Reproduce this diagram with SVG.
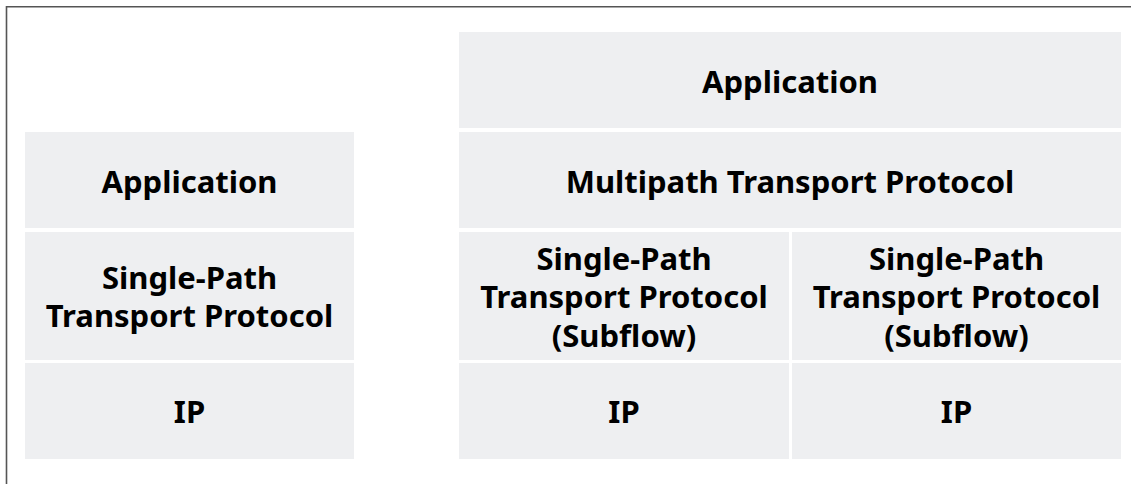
<svg xmlns="http://www.w3.org/2000/svg" width="1131" height="484" viewBox="0 0 1131 484">
<style>
.cell{fill:#eeeff1}
.t{font-family:"Noto Sans","Open Sans","DejaVu Sans",sans-serif;font-weight:bold;font-size:31px;fill:#000;text-anchor:middle}
.frame{stroke:#555;stroke-width:1.6;fill:none}
</style>
<rect width="1131" height="484" fill="#fff"/>
<path class="frame" d="M6.5,484 V6.8 H1131"/>
<g id="left-application"><rect class="cell" x="25" y="132" width="329" height="96"/><text class="t" x="189.5" y="193">Application</text></g>
<g id="left-transport"><rect class="cell" x="25" y="232" width="329" height="128"/><text class="t" x="189.5" y="289">Single-Path</text><text class="t" x="189.5" y="327">Transport Protocol</text></g>
<g id="left-ip"><rect class="cell" x="25" y="363" width="329" height="96"/><text class="t" x="189.5" y="423">IP</text></g>
<g id="right-application"><rect class="cell" x="459" y="32" width="662" height="96"/><text class="t" x="790" y="93">Application</text></g>
<g id="right-multipath"><rect class="cell" x="459" y="132" width="662" height="96"/><text class="t" x="790" y="193">Multipath Transport Protocol</text></g>
<g id="subflow-1"><rect class="cell" x="459" y="232" width="330" height="128"/><text class="t" x="624" y="270">Single-Path</text><text class="t" x="624" y="308">Transport Protocol</text><text class="t" x="624" y="347">(Subflow)</text></g>
<g id="subflow-2"><rect class="cell" x="792" y="232" width="329" height="128"/><text class="t" x="956.5" y="270">Single-Path</text><text class="t" x="956.5" y="308">Transport Protocol</text><text class="t" x="956.5" y="347">(Subflow)</text></g>
<g id="ip-1"><rect class="cell" x="459" y="363" width="330" height="96"/><text class="t" x="624" y="423">IP</text></g>
<g id="ip-2"><rect class="cell" x="792" y="363" width="329" height="96"/><text class="t" x="956.5" y="423">IP</text></g>
<g id="connectors"/>
</svg>
